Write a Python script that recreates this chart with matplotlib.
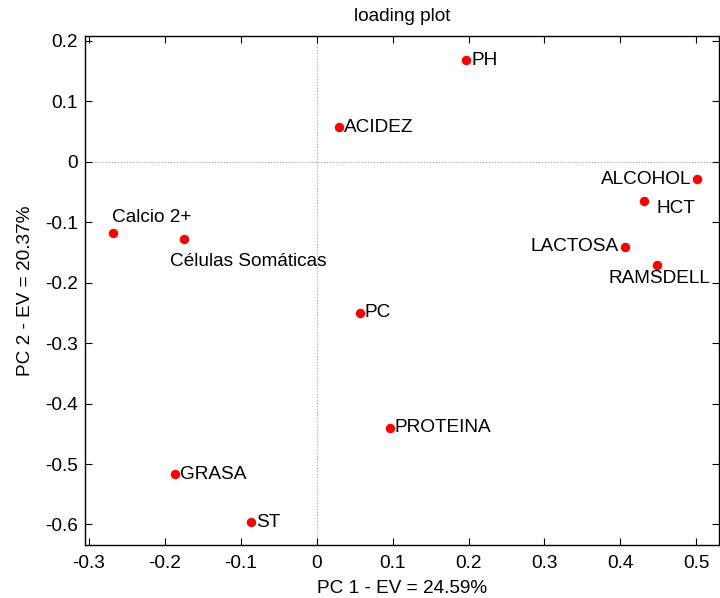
import matplotlib
matplotlib.use("Agg")
import matplotlib.pyplot as plt

FS = 13.7
plt.rcParams['font.family'] = ['Liberation Sans', 'DejaVu Sans']
plt.rcParams['font.size'] = FS

labels = ['PH', 'ACIDEZ', 'ALCOHOL', 'HCT', 'LACTOSA', 'RAMSDELL', 'Calcio 2+',
          'Células Somáticas', 'PC', 'PROTEINA', 'GRASA', 'ST']
pc1 = [0.197, 0.029, 0.501, 0.431, 0.406, 0.448, -0.269, -0.175, 0.057, 0.096, -0.187, -0.086]
pc2 = [0.168, 0.057, -0.029, -0.065, -0.141, -0.171, -0.118, -0.128, -0.250, -0.440, -0.517, -0.596]

# label placement (offset pixels, ha, va)
placement = {
    'ALCOHOL': ((-6, 0), 'right', 'center'),
    'HCT': ((13, -7), 'left', 'center'),
    'LACTOSA': ((-6, 0), 'right', 'center'),
    'RAMSDELL': ((3, -13), 'center', 'center'),
    'Calcio 2+': ((-1, 16), 'left', 'center'),
    'Células Somáticas': ((-14, -22), 'left', 'center'),
}

fig = plt.figure(figsize=(7.2, 5.98), dpi=100)
ax = fig.add_axes([0.118, 0.0886, 0.8806, 0.8512])

ax.axhline(0, color='#a0a0a0', lw=0.8, ls=':', zorder=1)
ax.axvline(0, color='#a0a0a0', lw=0.8, ls=':', zorder=1)
ax.plot(pc1, pc2, 'o', color='red', markersize=5.8, zorder=3, ls='none')

for lab, x, y in zip(labels, pc1, pc2):
    off, ha, va = placement.get(lab, ((5, 0), 'left', 'center'))
    ax.annotate(lab, (x, y), xytext=off, textcoords='offset pixels',
                ha=ha, va=va, fontsize=FS)

ax.set_xlim(-0.3053, 0.530)
ax.set_ylim(-0.634, 0.208)
ax.set_xticks([-0.3, -0.2, -0.1, 0, 0.1, 0.2, 0.3, 0.4, 0.5])
ax.set_xticklabels(['-0.3', '-0.2', '-0.1', '0', '0.1', '0.2', '0.3', '0.4', '0.5'])
ax.set_yticks([0.2, 0.1, 0, -0.1, -0.2, -0.3, -0.4, -0.5, -0.6])
ax.set_yticklabels(['0.2', '0.1', '0', '-0.1', '-0.2', '-0.3', '-0.4', '-0.5', '-0.6'])
ax.tick_params(direction='in', top=True, right=True, length=5, width=0.8, labelsize=FS)
ax.tick_params(axis='x', pad=7)
ax.tick_params(axis='y', pad=5)
for s in ax.spines.values():
    s.set_linewidth(1.0)

ax.set_xlabel('PC 1 - EV = 24.59%', fontsize=FS, labelpad=6)
ax.set_ylabel('PC 2 - EV = 20.37%', fontsize=FS, labelpad=8)
ax.set_title('loading plot', fontsize=FS, pad=11)

fig.savefig('out.png', dpi=100)
